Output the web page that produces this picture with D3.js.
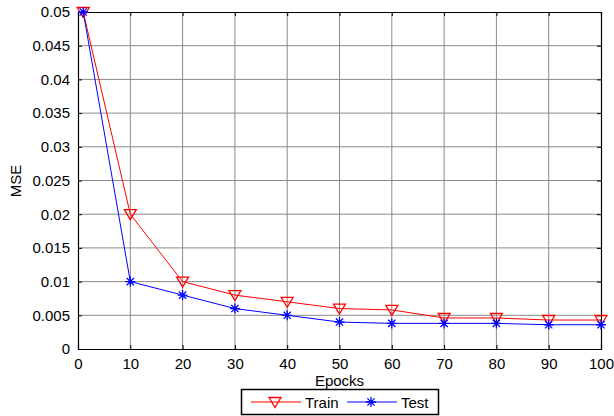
<!DOCTYPE html>
<html>
<head>
<meta charset="utf-8">
<script src="https://cdn.jsdelivr.net/npm/d3@7"></script>
<style>
  body { margin: 0; background: #fff; }
  text { font-family: "Liberation Sans", Arial, sans-serif; }
</style>
</head>
<body>
<div id="chart"></div>
<script>
var svgWidth = 614;
var svgHeight = 416;

// data
var epochs = [1, 10, 20, 30, 40, 50, 60, 70, 80, 90, 100];
var trainMse = [0.05, 0.02, 0.01, 0.008, 0.007, 0.006, 0.0058, 0.0046, 0.0046, 0.0043, 0.0043];
var testMse = [0.05, 0.01, 0.008, 0.006, 0.005, 0.004, 0.0038, 0.0038, 0.0038, 0.0036, 0.0036];
var xTicks = [0, 10, 20, 30, 40, 50, 60, 70, 80, 90, 100];
var yTicks = [0, 0.005, 0.01, 0.015, 0.02, 0.025, 0.03, 0.035, 0.04, 0.045, 0.05];
var seriesNames = ["Train", "Test"];

var margin = { top: 12, right: 13, bottom: 67, left: 78 };
var chartWidth = svgWidth - margin.left - margin.right;
var chartHeight = svgHeight - margin.top - margin.bottom;

var svg = d3.select("#chart")
  .append("svg")
  .attr("width", svgWidth)
  .attr("height", svgHeight);

var g = svg.append("g")
  .attr("transform", `translate(${margin.left}, ${margin.top})`);

var x = d3.scaleLinear().domain([0, 100]).range([0, chartWidth]);
var y = d3.scaleLinear().domain([0, 0.05]).range([chartHeight, 0]);

// grid
g.append("g").selectAll("line")
  .data(xTicks.slice(1, -1))
  .enter().append("line")
  .attr("x1", d => x(d)).attr("x2", d => x(d))
  .attr("y1", 0).attr("y2", chartHeight)
  .attr("stroke", "#8a8a8a").attr("stroke-width", 1);

g.append("g").selectAll("line")
  .data(yTicks.slice(1, -1))
  .enter().append("line")
  .attr("y1", d => y(d)).attr("y2", d => y(d))
  .attr("x1", 0).attr("x2", chartWidth)
  .attr("stroke", "#8a8a8a").attr("stroke-width", 1);

// axes, ticks inward like matlab
var fmtY = d => d === 0 ? "0" : String(+d.toFixed(3));
var bottomAxis = d3.axisBottom(x).tickValues(xTicks).tickSize(-4).tickPadding(9);
var leftAxis = d3.axisLeft(y).tickValues(yTicks).tickSize(-4).tickPadding(8).tickFormat(fmtY);
var topAxis = d3.axisTop(x).tickValues(xTicks).tickSize(-4).tickFormat("");
var rightAxis = d3.axisRight(y).tickValues(yTicks).tickSize(-4).tickFormat("");

g.append("g").attr("transform", `translate(0, ${chartHeight})`).call(bottomAxis);
g.append("g").call(leftAxis);
g.append("g").call(topAxis);
g.append("g").attr("transform", `translate(${chartWidth}, 0)`).call(rightAxis);

g.selectAll(".domain").attr("stroke", "#000").attr("stroke-width", 1.2);
g.selectAll(".tick line").attr("stroke", "#000");
g.selectAll(".tick text").attr("font-size", 15).attr("fill", "#000")
  .attr("font-family", "'Liberation Sans', Arial, sans-serif");

// lines
var trainData = epochs.map((e, i) => ({ x: e, y: trainMse[i] }));
var testData = epochs.map((e, i) => ({ x: e, y: testMse[i] }));

var line = d3.line().x(d => x(d.x)).y(d => y(d.y));

g.append("path").datum(trainData)
  .attr("d", line).attr("fill", "none").attr("stroke", "#ff0000").attr("stroke-width", 1);
g.append("path").datum(testData)
  .attr("d", line).attr("fill", "none").attr("stroke", "#0000ff").attr("stroke-width", 1);

var triPath = "M-6,-4.5L6,-4.5L0,5.5Z";
var starPath = "M-5,0L5,0M0,-5L0,5M-3.6,-3.6L3.6,3.6M-3.6,3.6L3.6,-3.6";

g.selectAll(".tri").data(trainData).enter().append("path")
  .attr("class", "tri")
  .attr("transform", d => `translate(${x(d.x)}, ${y(d.y)})`)
  .attr("d", triPath).attr("fill", "none").attr("stroke", "#ff0000").attr("stroke-width", 1.3);

g.selectAll(".star").data(testData).enter().append("path")
  .attr("class", "star")
  .attr("transform", d => `translate(${x(d.x)}, ${y(d.y)})`)
  .attr("d", starPath).attr("fill", "none").attr("stroke", "#0000ff").attr("stroke-width", 1.3);

// axis titles
svg.append("text")
  .attr("x", margin.left + chartWidth / 2).attr("y", 386)
  .attr("text-anchor", "middle").attr("font-size", 15)
  .text("Epocks");

svg.append("text")
  .attr("transform", "translate(21, 181) rotate(-90)")
  .attr("text-anchor", "middle").attr("font-size", 15)
  .text("MSE");

// legend
var legend = svg.append("g");
legend.append("rect")
  .attr("x", 241.5).attr("y", 389.5).attr("width", 197).attr("height", 25)
  .attr("fill", "#fff").attr("stroke", "#000").attr("stroke-width", 1.5);

var legendItems = [
  { name: seriesNames[0], color: "#ff0000", shape: triPath, x0: 251 },
  { name: seriesNames[1], color: "#0000ff", shape: starPath, x0: 347 }
];

legendItems.forEach(function(item) {
  legend.append("line")
    .attr("x1", item.x0).attr("x2", item.x0 + 50)
    .attr("y1", 402).attr("y2", 402)
    .attr("stroke", item.color);
  legend.append("path")
    .attr("transform", `translate(${item.x0 + 24}, 402)`)
    .attr("d", item.shape).attr("fill", "none")
    .attr("stroke", item.color).attr("stroke-width", 1.3);
  legend.append("text")
    .attr("x", item.x0 + 54).attr("y", 407.5)
    .attr("font-size", 15)
    .text(item.name);
});
</script>
</body>
</html>
